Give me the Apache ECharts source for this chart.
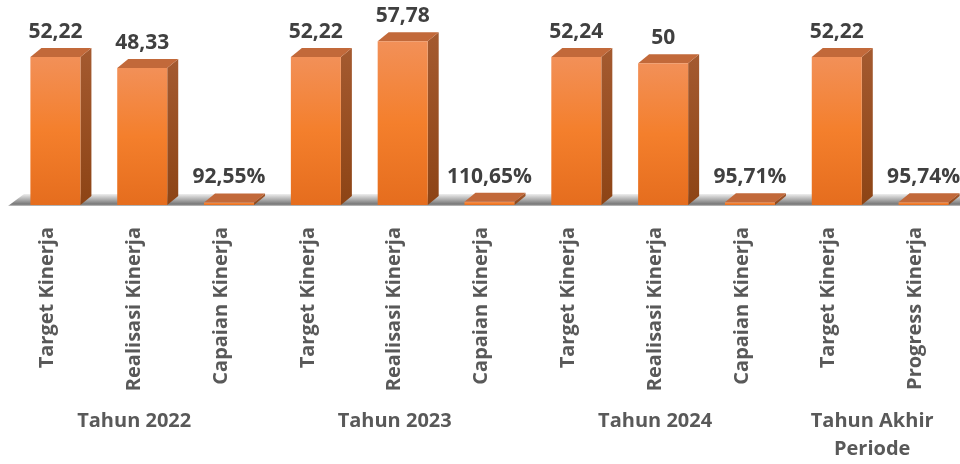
<!DOCTYPE html>
<html>
<head>
<meta charset="utf-8">
<script src="https://cdn.jsdelivr.net/npm/echarts@6/dist/echarts.min.js"></script>
<style>
  html, body { margin: 0; padding: 0; background: #fff; }
  #main { width: 960px; height: 464px; }
</style>
</head>
<body>
<div id="main"></div>
<script>
// data
var categories = ['Target Kinerja', 'Realisasi Kinerja', 'Capaian Kinerja',
                  'Target Kinerja', 'Realisasi Kinerja', 'Capaian Kinerja',
                  'Target Kinerja', 'Realisasi Kinerja', 'Capaian Kinerja',
                  'Target Kinerja', 'Progress Kinerja'];
// capaian / progress are ratios (shown as percent), drawn on the same axis
var values = [52.22, 48.33, 0.9255, 52.22, 57.78, 1.1065, 52.24, 50, 0.9571, 52.22, 0.9574];
var groups = ['Tahun 2022', 'Tahun 2023', 'Tahun 2024', 'Tahun Akhir\nPeriode'];
var groupStart = [0, 3, 6, 9];
var groupEnd = [2, 5, 8, 10];

var FONT = '"Open Sans", "DejaVu Sans", sans-serif';
var DEPTH_X = 11, DEPTH_Y = 9;   // 3d offset of side/top faces
var FRONT_SHIFT = 8;             // front face sits a bit right of the tick

function fmt(v) {
  if (v < 2) return (v * 100).toFixed(2).replace('.', ',') + '%';
  return String(v).replace('.', ',');
}

function renderBar(params, api) {
  var idx = api.value(0), v = api.value(1);
  var base = api.coord([idx, 0]);
  var top = api.coord([idx, v]);
  var w = api.size([1, 0])[0] * 0.576;
  var x0 = base[0] + FRONT_SHIFT - w / 2, x1 = x0 + w;
  var yb = base[1], yt = Math.min(top[1], yb - 2);
  return {
    type: 'group',
    children: [
      { // side
        type: 'polygon',
        shape: { points: [[x1, yt], [x1 + DEPTH_X, yt - DEPTH_Y], [x1 + DEPTH_X, yb - DEPTH_Y], [x1, yb]] },
        style: { fill: new echarts.graphic.LinearGradient(0, 0, 0, 1, [
          { offset: 0, color: '#a45a30' }, { offset: 1, color: '#8d4415' }]) }
      },
      { // top
        type: 'polygon',
        shape: { points: [[x0, yt], [x0 + DEPTH_X, yt - DEPTH_Y], [x1 + DEPTH_X, yt - DEPTH_Y], [x1, yt]] },
        style: { fill: '#c2693a' }
      },
      { // front
        type: 'rect',
        shape: { x: x0, y: yt, width: w, height: yb - yt },
        style: { fill: new echarts.graphic.LinearGradient(0, 0, 0, 1, [
          { offset: 0, color: '#f29058' }, { offset: 0.5, color: '#f47f2c' }, { offset: 1, color: '#e56d1e' }]) }
      },
      {
        type: 'text',
        style: {
          text: fmt(v), x: x0 + w / 2, y: yt - 25,
          align: 'center', verticalAlign: 'middle',
          font: 'bold 21px ' + FONT, fill: '#404040'
        }
      }
    ]
  };
}

function renderFloor(params, api) {
  var cs = params.coordSys;
  var yb = cs.y + cs.height;
  return {
    type: 'polygon',
    z2: -10,
    shape: { points: [[cs.x + 4, yb + 1], [cs.x + 20, yb - 11], [cs.x + cs.width + 20, yb - 11], [cs.x + cs.width + 20, yb + 1]] },
    style: { fill: new echarts.graphic.LinearGradient(0, 0, 0, 1, [
      { offset: 0, color: '#eeeeee' }, { offset: 0.5, color: '#a8a8a8' },
      { offset: 0.85, color: '#777777' }, { offset: 1, color: '#c8c8c8' }]) }
  };
}

var chart = echarts.init(document.getElementById('main'));
var option = {
  animation: false,
  grid: { left: 4, top: 35, width: 955, bottom: 259 },
  xAxis: {
    type: 'category',
    data: categories,
    axisLine: { show: false },
    axisTick: { show: false },
    axisLabel: {
      interval: 0, rotate: 90, margin: 22,
      fontFamily: FONT, fontSize: 20, fontWeight: 'bold', color: '#595959'
    }
  },
  yAxis: { type: 'value', min: 0, max: 60, show: false },
  series: [
    { type: 'custom', renderItem: renderFloor, data: [[0, 0]], z: 1, silent: true },
    {
      type: 'custom', renderItem: renderBar, z: 2,
      data: values.map(function (v, i) { return [i, v]; })
    }
  ]
};
chart.setOption(option);

var texts = groups.map(function (g, k) {
  var a = chart.convertToPixel({ xAxisIndex: 0 }, groupStart[k]);
  var b = chart.convertToPixel({ xAxisIndex: 0 }, groupEnd[k]);
  return {
    type: 'text',
    x: (a + b) / 2, y: 407,
    style: {
      text: g, align: 'center', verticalAlign: 'top', lineHeight: 28,
      font: 'bold 20px ' + FONT, fill: '#595959'
    }
  };
});
chart.setOption({ graphic: texts });
</script>
</body>
</html>
